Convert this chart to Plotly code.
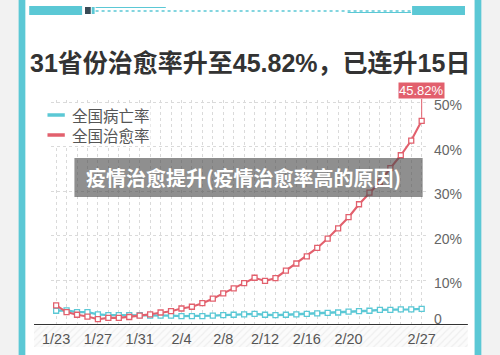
import plotly.graph_objects as go

# ---------------- data ----------------
dates = ["1/23", "1/24", "1/25", "1/26", "1/27", "1/28", "1/29", "1/30", "1/31",
         "2/1", "2/2", "2/3", "2/4", "2/5", "2/6", "2/7", "2/8", "2/9", "2/10",
         "2/11", "2/12", "2/13", "2/14", "2/15", "2/16", "2/17", "2/18", "2/19",
         "2/20", "2/21", "2/22", "2/23", "2/24", "2/25", "2/26", "2/27"]
cure_rate = [4.4, 2.9, 2.3, 1.9, 1.3, 1.6, 1.6, 1.8, 2.1, 2.4, 2.8, 3.1, 3.7, 4.1,
             4.9, 5.9, 7.1, 8.2, 9.4, 10.6, 9.9, 10.5, 12.2, 13.8, 15.4, 17.3,
             19.4, 21.7, 24.2, 27.1, 29.7, 32.1, 35.2, 38.1, 41.4, 45.82]
death_rate = [3.2, 3.3, 2.9, 2.9, 2.4, 2.2, 2.2, 2.2, 2.2, 2.1, 2.1, 2.1, 2.0, 2.0,
              2.0, 2.1, 2.2, 2.3, 2.4, 2.5, 2.3, 2.2, 2.3, 2.4, 2.5, 2.6, 2.7,
              2.8, 3.0, 3.1, 3.2, 3.4, 3.4, 3.5, 3.5, 3.6]
x_labels = ["1/23", "1/27", "1/31", "2/4", "2/8", "2/12", "2/16", "2/20", "2/27"]
y_ticks = [0, 10, 20, 30, 40, 50]
series_names = ["全国病亡率", "全国治愈率"]
title_text = "31省份治愈率升至45.82%，已连升15日"
watermark_text = "疫情治愈提升(疫情治愈率高的原因)"

# ---------------- style ----------------
W, H = 500, 355
CYAN = "#5BC8D5"
RED = "#E2606D"
GRID = "#dadada"
CJK = "Noto Sans CJK SC"
LAT = "Liberation Sans, Arial, sans-serif"


def px(x):
    return x / W


def py(y):
    return 1 - y / H


fig = go.Figure()

# hatched band below the x axis (its own subplot, drawn first)
fig.add_trace(go.Bar(
    x=[0], y=[1], width=[1], xaxis="x", yaxis="y",
    marker=dict(color="#fbfbfb", line=dict(width=0),
                pattern=dict(shape="/", fgcolor="#e0e0e0", bgcolor="#fbfbfb",
                             size=5, solidity=0.22)),
    hoverinfo="skip", showlegend=False))

# main series
fig.add_trace(go.Scatter(
    x=dates, y=death_rate, xaxis="x2", yaxis="y2", name=series_names[0],
    mode="lines+markers", line=dict(color=CYAN, width=2.3),
    marker=dict(symbol="square", size=5, color="white",
                line=dict(color=CYAN, width=1.3)),
    showlegend=False))
fig.add_trace(go.Scatter(
    x=dates, y=cure_rate, xaxis="x2", yaxis="y2", name=series_names[1],
    mode="lines+markers", line=dict(color=RED, width=2.1),
    marker=dict(symbol="square", size=5, color="white",
                line=dict(color=RED, width=1.3)),
    showlegend=False))

ticktext = [d if d in x_labels else "" for d in dates]

fig.update_layout(
    width=W, height=H,
    margin=dict(l=0, r=0, t=0, b=0),
    paper_bgcolor="#f2f2f2",
    plot_bgcolor="rgba(0,0,0,0)",
    showlegend=False,
    xaxis=dict(domain=[px(26), px(477)], anchor="y", range=[-0.5, 0.5],
               visible=False, fixedrange=True),
    yaxis=dict(domain=[py(347), py(326)], anchor="x", range=[0, 1],
               visible=False, fixedrange=True),
    xaxis2=dict(domain=[px(44), px(433)], anchor="y2", type="category",
                range=[-0.46, 35.37], tickmode="array", tickvals=dates,
                ticktext=ticktext, ticks="", showline=False, zeroline=False,
                showgrid=True, gridcolor=GRID, griddash="dot", gridwidth=1,
                tickfont=dict(family=LAT, size=14.5, color="#555555"),
                ticklabelstandoff=3),
    yaxis2=dict(domain=[py(325), py(100)], anchor="x2", range=[0, 50.5],
                tickmode="array", tickvals=y_ticks, showticklabels=False,
                showgrid=True, gridcolor=GRID, griddash="dot", gridwidth=1,
                zeroline=False, showline=False),
)

shapes = []
# white card with cyan side bars
shapes.append(dict(type="rect", xref="paper", yref="paper", x0=px(16), x1=px(484),
                   y0=0, y1=1, fillcolor="white", line=dict(width=0), layer="below"))
shapes.append(dict(type="rect", xref="paper", yref="paper", x0=px(10), x1=px(17),
                   y0=0, y1=1, fillcolor=CYAN, line=dict(width=0), layer="below"))
shapes.append(dict(type="rect", xref="paper", yref="paper", x0=px(484), x1=px(491),
                   y0=0, y1=1, fillcolor=CYAN, line=dict(width=0), layer="below"))
# header decoration
shapes.append(dict(type="rect", xref="paper", yref="paper", x0=px(21), x1=px(76),
                   y0=py(15), y1=py(6), fillcolor=CYAN, line=dict(width=0)))
shapes.append(dict(type="rect", xref="paper", yref="paper", x0=px(419), x1=px(474),
                   y0=py(15), y1=py(6), fillcolor=CYAN, line=dict(width=0)))
shapes.append(dict(type="rect", xref="paper", yref="paper", x0=px(79), x1=px(85),
                   y0=py(14), y1=py(7), fillcolor="#3a4a55", line=dict(width=0)))
shapes.append(dict(type="rect", xref="paper", yref="paper", x0=px(86), x1=px(89),
                   y0=py(14), y1=py(7), fillcolor=CYAN, line=dict(width=0)))
shapes.append(dict(type="line", xref="paper", yref="paper", x0=px(90), x1=px(163),
                   y0=py(7.5), y1=py(7.5), line=dict(color=CYAN, width=1)))
shapes.append(dict(type="line", xref="paper", yref="paper", x0=px(90), x1=px(418),
                   y0=py(11), y1=py(11), line=dict(color=CYAN, width=1.5, dash="dot")))
shapes.append(dict(type="line", xref="paper", yref="paper", x0=px(352), x1=px(418),
                   y0=py(12.5), y1=py(12.5), line=dict(color=CYAN, width=1)))
# x axis line (extends beyond plot area)
shapes.append(dict(type="line", xref="paper", yref="y2", x0=px(26), x1=px(477),
                   y0=0, y1=0, line=dict(color="#333333", width=2)))
# legend box
shapes.append(dict(type="rect", xref="paper", yref="paper", x0=px(36), x1=px(147),
                   y0=py(146), y1=py(104), fillcolor="white", line=dict(width=0)))
for c, yy in [(CYAN, 115), (RED, 135)]:
    shapes.append(dict(type="line", xref="paper", yref="paper", x0=px(40), x1=px(58),
                       y0=py(yy), y1=py(yy), line=dict(color=c, width=3.5)))
# watermark box
shapes.append(dict(type="rect", xref="paper", yref="paper", x0=px(68), x1=px(430),
                   y0=py(197), y1=py(158), fillcolor="rgba(75,75,75,0.62)",
                   line=dict(width=0), layer="above"))
fig.update_layout(shapes=shapes)

ann = []
ann.append(dict(text=title_text, xref="paper", yref="paper", x=px(251), y=py(63),
                xanchor="center", yanchor="middle", showarrow=False,
                font=dict(family="Liberation Sans, " + CJK, size=25,
                          color="#333333", weight="bold")))
for name, yy in zip(series_names, [115, 135]):
    ann.append(dict(text=name, xref="paper", yref="paper", x=px(63), y=py(yy),
                    xanchor="left", yanchor="middle", showarrow=False,
                    font=dict(family=CJK, size=15.5, color="#555555")))
for v in y_ticks:
    ann.append(dict(text=(f"{v}%" if v else "0"), xref="paper", yref="y2",
                    x=px(440), y=v, xanchor="left", yanchor="middle",
                    yshift=(6 if v == 0 else -3), showarrow=False,
                    font=dict(family=LAT, size=14, color="#666666")))
# last value tag
ann.append(dict(text=f"{cure_rate[-1]:.2f}%", xref="x2", yref="y2",
                x=dates[-1], y=cure_rate[-1], ax=0, ay=-30,
                showarrow=True, arrowhead=0, arrowwidth=1, arrowcolor=RED,
                bgcolor=RED, borderpad=0, standoff=3,
                font=dict(family=LAT, size=13, color="white")))
ann.append(dict(text=watermark_text, xref="paper", yref="paper", x=px(244), y=py(177.5),
                xanchor="center", yanchor="middle", showarrow=False,
                font=dict(family=CJK, size=20, color="white", weight="bold")))
fig.update_layout(annotations=ann)

fig.write_html("out.html")
